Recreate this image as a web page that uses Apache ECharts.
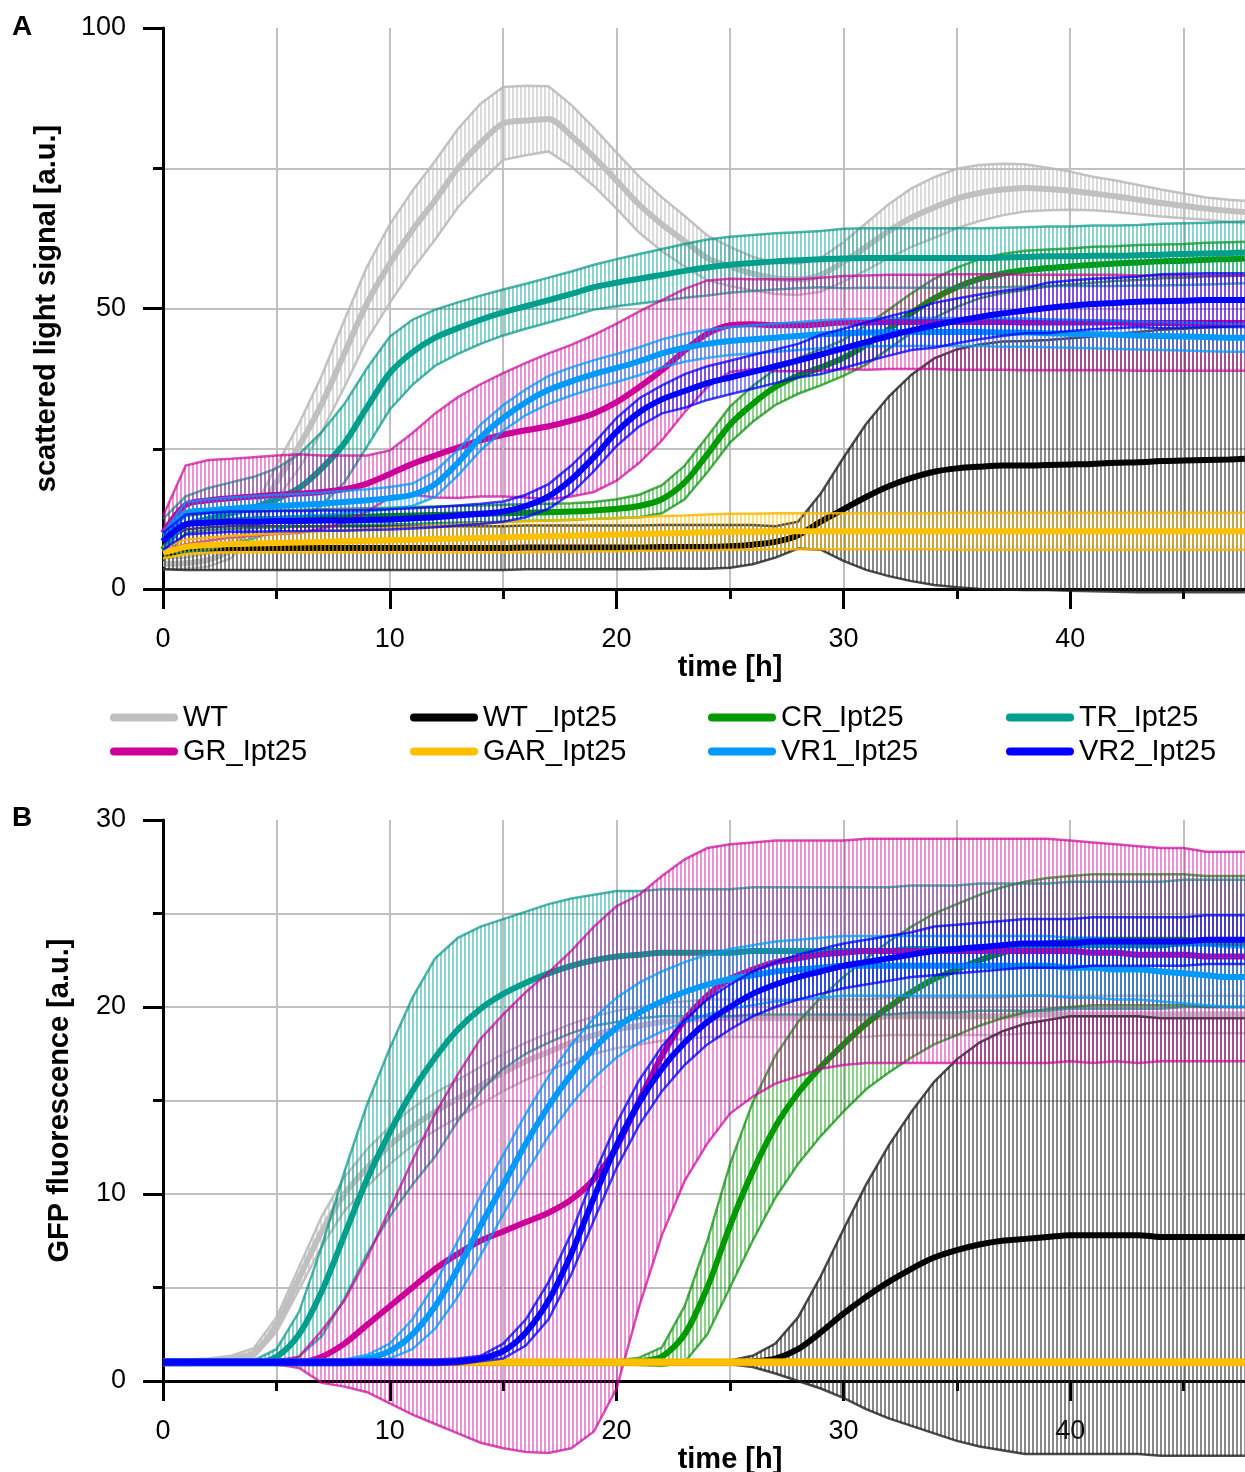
<!DOCTYPE html>
<html>
<head>
<meta charset="utf-8">
<script src="https://cdn.jsdelivr.net/npm/echarts@6/dist/echarts.min.js"></script>
<style>
html, body { margin: 0; padding: 0; background: #fff; }
#chart { width: 1245px; height: 1472px; }
</style>
</head>
<body>
<div id="chart"></div>
<script>
// Sampling times (h)
const hours = [0,1,2,3,4,5,6,7,8,9,
  10,11,12,13,14,15,16,17,18,19,
  20,21,22,23,24,25,26,27,28,29,
  30,31,32,33,34,35,36,37,38,39,
  40,41,42,43,44,45,46,47,47.7];

// Panel A: scattered light signal, mean and standard deviation per strain
const lightWT = [4.5,4.6,5.2,7,12,19,25.5,33,42,51,
  58,64,69.3,75,79.5,83,83.5,83.8,80.8,77,
  72.8,68.5,65,62,59,57.5,56.2,55.4,55.2,56,
  58.3,61,63.8,66.2,68,69.6,70.6,71.2,71.5,71.3,
  71,70.5,70,69.4,68.8,68.3,67.8,67.4,67.2];
const lightWTSd = [1,1,1.2,1.5,2.2,3,4,5,6,6.5,
  7,7,7,7,7,6.5,6.2,5.8,5.5,5.2,
  5,5,4.8,4.5,4,3.5,3,2.8,2.8,3,
  3.5,4.2,4.8,5.2,5.4,5.3,5,4.6,4.2,3.8,
  3.4,3,2.8,2.6,2.4,2.2,2,2,2];
const lightWTIpt = [6,7,7.2,7.3,7.3,7.3,7.3,7.3,7.3,7.3,
  7.3,7.3,7.3,7.3,7.3,7.3,7.4,7.4,7.4,7.4,
  7.4,7.4,7.5,7.5,7.5,7.6,7.9,8.4,9.6,12,
  14.2,16.4,18.3,19.8,20.9,21.5,21.8,22,22,22.1,
  22.2,22.3,22.5,22.6,22.8,22.9,23,23.1,23.2];
const lightWTIptSd = [2.5,3.6,3.8,3.9,3.9,3.9,3.9,3.9,3.9,3.9,
  3.9,3.9,3.9,3.9,3.9,3.9,3.9,3.9,3.9,3.9,
  3.9,3.9,3.9,3.9,3.9,3.8,3.5,2.8,2.4,5,
  9.2,13,16,18.4,20.2,21.2,21.8,22.1,22.2,22.3,
  22.5,22.7,23,23.2,23.4,23.5,23.6,23.7,23.8];
const lightCR = [7,11.5,12,12.2,12.4,12.5,12.6,12.7,12.8,12.9,
  13,13.1,13.2,13.3,13.4,13.5,13.6,13.7,13.8,14,
  14.3,14.8,16,19,24,29.3,33,36,38,39.5,
  41.2,43.5,46.3,49.2,51.8,53.8,55.3,56.2,56.8,57.2,
  57.5,57.8,58,58.2,58.4,58.5,58.7,58.8,58.9];
const lightCRSd = [2,1.5,1.5,1.5,1.5,1.5,1.5,1.5,1.5,1.5,
  1.5,1.5,1.5,1.5,1.5,1.5,1.5,1.5,1.5,1.5,
  1.7,2,2.5,3,3.2,3.2,3.2,3.2,3.2,3.2,
  3.2,3.5,3.5,3.5,3.5,3.5,3.5,3.5,3.5,3.3,
  3.2,3.2,3.1,3.1,3,3,3,3,3];
const lightTR = [9.5,11.5,12.5,13.5,14.5,16,18,21.5,26,32.4,
  38.5,42.2,44.8,46.5,48,49.3,50.4,51.5,52.6,53.8,
  54.6,55.3,56,56.7,57.3,57.8,58.1,58.4,58.6,58.8,
  58.9,59,59,59,59,59,59,59.1,59.2,59.3,
  59.3,59.4,59.4,59.5,59.6,59.7,59.8,59.9,60];
const lightTRSd = [3,5,5.5,5.5,5.5,5.5,6,6.5,7,7,
  6.5,5.8,5,4.6,4.3,4.1,4,4,4,4,
  4.2,4.4,4.6,4.8,5,5,5,5,5,5,
  5.3,5.3,5.3,5.3,5.3,5.3,5.3,5.3,5.3,5.3,
  5.3,5.4,5.4,5.4,5.5,5.5,5.5,5.5,5.5];
const lightGR = [10,15,15.8,16.2,16.5,16.8,17,17.3,17.8,18.8,
  20.5,22.3,23.8,25.2,26.5,27.5,28.3,29,30,31.3,
  33.3,36,39,42.5,45.5,47,47.2,47,47,47.2,
  47.5,47.5,47.6,47.6,47.6,47.6,47.6,47.6,47.5,47.5,
  47.5,47.5,47.5,47.4,47.4,47.4,47.4,47.4,47.4];
const lightGRSd = [3,7,7.2,7,7,7,7,6.5,6,5,
  4.2,5.5,7.5,9,10,11,12,13,13.5,14,
  14,13.5,12.5,11,9.5,8.3,8,8.2,8.2,8.3,
  8.3,8.4,8.4,8.4,8.4,8.5,8.5,8.5,8.5,8.5,
  8.5,8.5,8.5,8.5,8.5,8.5,8.5,8.5,8.5];
const lightGAR = [6.5,7.5,7.8,8,8.1,8.2,8.3,8.4,8.5,8.6,
  8.7,8.8,8.9,9,9.1,9.2,9.3,9.4,9.5,9.6,
  9.7,9.8,9.9,10,10.1,10.2,10.2,10.3,10.3,10.3,
  10.3,10.3,10.3,10.3,10.3,10.3,10.3,10.3,10.3,10.3,
  10.3,10.3,10.3,10.3,10.3,10.3,10.3,10.3,10.3];
const lightGARSd = [1,1.3,1.4,1.5,1.6,1.7,1.8,1.9,2,2.1,
  2.2,2.3,2.4,2.5,2.6,2.7,2.8,2.8,2.9,2.9,
  3,3,3.1,3.1,3.2,3.2,3.2,3.2,3.2,3.2,
  3.2,3.2,3.2,3.2,3.2,3.3,3.3,3.3,3.3,3.3,
  3.3,3.3,3.3,3.3,3.3,3.3,3.3,3.3,3.3];
const lightVR1 = [8.5,13.5,14,14.3,14.6,14.8,15,15.2,15.5,15.8,
  16.2,16.8,18.7,22.5,27,30.5,33.3,35.5,37,38.3,
  39.4,40.6,42,43,43.7,44.2,44.5,44.8,45.1,45.4,
  45.6,45.7,45.8,45.8,45.8,45.8,45.8,45.7,45.7,45.6,
  45.5,45.4,45.3,45.2,45.1,45,44.9,44.8,44.8];
const lightVR1Sd = [1.5,2,2,2,2,2,2,2,2,2,
  2,2,2.3,2.3,2.3,2.3,2.3,2.5,2.5,2.5,
  2.5,2.5,2.5,2.5,2.5,2.5,2.5,2.5,2.5,2.5,
  2.5,2.5,2.5,2.5,2.5,2.5,2.5,2.5,2.5,2.5,
  2.5,2.5,2.5,2.5,2.5,2.5,2.5,2.5,2.5];
const lightVR2 = [8.5,11.5,11.8,12,12,12.1,12.1,12.2,12.2,12.3,
  12.4,12.6,12.8,13.1,13.4,13.8,14.8,16.5,19.5,23.5,
  28,31.5,33.8,35.3,36.7,37.7,38.7,39.7,40.7,41.8,
  42.9,44,45.1,46.1,47,47.8,48.5,49.1,49.6,50.1,
  50.5,50.8,51,51.2,51.3,51.4,51.5,51.5,51.5];
const lightVR2Sd = [1.5,1.8,1.8,1.8,1.8,1.8,1.8,1.8,1.8,1.8,
  1.8,1.8,1.8,1.8,1.8,1.8,2,2.2,2.5,2.5,
  2.5,2.5,2.5,3,3,3,3,3,3,3.5,
  3.5,3.5,3.5,3.5,4,4,4,4,4,4.5,
  4.5,4.5,4.5,4.5,4.8,4.8,4.8,4.8,4.8];

// Panel B: GFP fluorescence, mean and standard deviation per strain
const gfpWT = [1,1,1.05,1.2,1.5,3,5.5,8,10,11.4,
  12.6,13.6,14.4,15.1,15.8,16.5,17.1,17.6,18.1,18.5,
  18.8,19,19.2,19.3,19.4,19.4,19.4,19.4,19.4,19.4,
  19.4,19.4,19.5,19.5,19.5,19.5,19.5,19.5,19.6,19.6,
  19.6,19.6,19.6,19.6,19.6,19.6,19.6,19.6,19.6];
const gfpWTSd = [0.15,0.15,0.15,0.15,0.25,0.4,0.6,0.8,0.9,1,
  1,1,1,1,1,1,1,1,1,1,
  1,1,1,1,1,1,1,1,1,1,
  1,1,1,1,1,1,1,1,1,1,
  1,1,1,1,1,1,1,1,1];
const gfpWTIpt = [1,1,1,1,1,1,1,1,1,1,
  1,1,1,1,1,1,1,1,1,1,
  1,1,1,1,1,1,1.05,1.2,1.7,2.6,
  3.6,4.5,5.3,6,6.6,7,7.3,7.5,7.6,7.7,
  7.8,7.8,7.8,7.8,7.7,7.7,7.7,7.7,7.7];
const gfpWTIptSd = [0.1,0.1,0.1,0.1,0.1,0.1,0.1,0.1,0.1,0.1,
  0.1,0.1,0.1,0.1,0.1,0.1,0.1,0.1,0.1,0.1,
  0.1,0.1,0.1,0.1,0.1,0.1,0.3,0.8,1.7,3,
  4.5,6,7.3,8.4,9.4,10.2,10.8,11.2,11.5,11.6,
  11.7,11.7,11.7,11.7,11.7,11.7,11.7,11.7,11.7];
const gfpCR = [1,1,1,1,1,1,1,1,1,1,
  1,1,1,1,1,1,1,1,1,1,
  1,1.05,1.3,2.5,5,8.3,11.2,13.6,15.4,16.8,
  18,19.1,20,20.8,21.5,22,22.5,22.9,23.2,23.4,
  23.5,23.6,23.6,23.6,23.6,23.6,23.5,23.5,23.5];
const gfpCRSd = [0.1,0.1,0.1,0.1,0.1,0.1,0.1,0.1,0.1,0.1,
  0.1,0.1,0.1,0.1,0.1,0.1,0.1,0.1,0.1,0.1,
  0.1,0.2,0.5,1.5,2.5,3.3,3.7,3.8,3.8,3.7,
  3.6,3.5,3.5,3.5,3.5,3.5,3.5,3.5,3.5,3.5,
  3.5,3.5,3.5,3.5,3.5,3.5,3.5,3.5,3.5];
const gfpTR = [1,1,1,1,1,1.3,2.5,4.8,7.8,10.8,
  13.3,15.5,17.3,18.8,19.9,20.7,21.3,21.8,22.2,22.5,
  22.7,22.8,22.9,22.9,22.9,22.9,23,23,23,23,
  23,23,23,23.1,23.1,23.1,23.2,23.2,23.2,23.2,
  23.3,23.3,23.3,23.3,23.3,23.4,23.4,23.4,23.4];
const gfpTRSd = [0.1,0.1,0.1,0.1,0.1,0.4,1.2,2.4,3.4,4,
  4.5,5,5.3,4.9,4.4,4,3.8,3.7,3.6,3.5,
  3.5,3.4,3.4,3.4,3.4,3.4,3.4,3.4,3.4,3.4,
  3.4,3.4,3.4,3.4,3.4,3.4,3.4,3.4,3.4,3.4,
  3.4,3.4,3.4,3.4,3.4,3.4,3.4,3.4,3.4];
const gfpGR = [1,1,1,1,1,1,1,1.3,2,3,
  4,5,6,6.8,7.5,8,8.5,9,9.7,10.8,
  12.5,15,17.4,19.3,20.6,21.5,22,22.4,22.6,22.8,
  22.9,23,23,23,23,23,23,23,23,23,
  23,22.9,22.9,22.8,22.8,22.8,22.7,22.7,22.7];
const gfpGRSd = [0.1,0.1,0.1,0.1,0.1,0.1,0.3,1.4,2.3,3.6,
  5.2,6.8,8.3,9.6,10.8,11.6,12.3,12.85,13.3,13.5,
  12.9,11,9.6,8.6,7.9,7.2,6.8,6.5,6.3,6.1,
  6,6,6,6,6,6,6,6,6,6,
  5.9,5.9,5.8,5.8,5.7,5.7,5.6,5.6,5.6];
const gfpGAR = [1,1,1,1,1,1,1,1,1,1,
  1,1,1,1,1,1,1,1,1,1,
  1,1,1,1,1,1,1,1,1,1,
  1,1,1,1,1,1,1,1,1,1,
  1,1,1,1,1,1,1,1,1];
const gfpGARSd = [0.15,0.15,0.15,0.15,0.15,0.15,0.15,0.15,0.15,0.15,
  0.15,0.15,0.15,0.15,0.15,0.15,0.15,0.15,0.15,0.15,
  0.15,0.15,0.15,0.15,0.15,0.15,0.15,0.15,0.15,0.15,
  0.15,0.15,0.15,0.15,0.15,0.15,0.15,0.15,0.15,0.15,
  0.15,0.15,0.15,0.15,0.15,0.15,0.15,0.15,0.15];
const gfpVR1 = [1,1,1,1,1,1,1,1,1,1.2,
  1.6,2.5,4,6,8.3,10.5,12.7,14.7,16.4,17.8,
  18.9,19.7,20.3,20.8,21.2,21.5,21.7,21.9,22,22.1,
  22.2,22.2,22.2,22.2,22.2,22.2,22.2,22.2,22.2,22.2,
  22.1,22.1,22,22,21.9,21.8,21.7,21.6,21.6];
const gfpVR1Sd = [0.15,0.15,0.15,0.15,0.15,0.15,0.15,0.15,0.15,0.2,
  0.4,0.8,1.2,1.5,1.6,1.6,1.6,1.6,1.6,1.6,
  1.6,1.6,1.6,1.6,1.6,1.6,1.6,1.6,1.6,1.6,
  1.6,1.6,1.6,1.6,1.6,1.6,1.6,1.6,1.6,1.6,
  1.6,1.6,1.6,1.6,1.6,1.6,1.6,1.6,1.6];
const gfpVR2 = [1,1,1,1,1,1,1,1,1,1,
  1,1,1,1.05,1.2,1.6,2.6,4.3,6.8,9.8,
  12.6,14.9,16.7,18.1,19.2,20,20.7,21.2,21.6,21.9,
  22.2,22.4,22.6,22.8,23,23.1,23.2,23.3,23.4,23.4,
  23.4,23.5,23.5,23.5,23.5,23.5,23.6,23.6,23.6];
const gfpVR2Sd = [0.15,0.15,0.15,0.15,0.15,0.15,0.15,0.15,0.15,0.15,
  0.15,0.15,0.15,0.15,0.15,0.4,0.7,1,1.1,1.2,
  1.2,1.2,1.2,1.2,1.2,1.2,1.2,1.2,1.2,1.2,
  1.2,1.2,1.2,1.2,1.3,1.3,1.3,1.3,1.3,1.3,
  1.3,1.3,1.3,1.3,1.3,1.3,1.3,1.3,1.3];

const xTicks = [0, 10, 20, 30, 40];

const FONT = '"Liberation Sans", Arial, Helvetica, sans-serif';

// Strains in drawing / legend order
const strains = [
  { name: 'WT',        color: '#c0c0c0', bar: 'rgba(190,190,190,0.55)', edge: 'rgba(185,185,185,0.85)', light: lightWT,    lightSd: lightWTSd,    gfp: gfpWT,    gfpSd: gfpWTSd },
  { name: 'WT _Ipt25', color: '#000000', bar: 'rgba(40,40,40,0.55)',    edge: 'rgba(30,30,30,0.8)',     light: lightWTIpt, lightSd: lightWTIptSd, gfp: gfpWTIpt, gfpSd: gfpWTIptSd },
  { name: 'CR_Ipt25',  color: '#009900', bar: 'rgba(0,153,0,0.45)',     edge: 'rgba(0,140,0,0.7)',      light: lightCR,    lightSd: lightCRSd,    gfp: gfpCR,    gfpSd: gfpCRSd },
  { name: 'TR_Ipt25',  color: '#009e8c', bar: 'rgba(0,158,140,0.45)',   edge: 'rgba(0,150,135,0.7)',    light: lightTR,    lightSd: lightTRSd,    gfp: gfpTR,    gfpSd: gfpTRSd },
  { name: 'GR_Ipt25',  color: '#cc0099', bar: 'rgba(204,0,153,0.42)',   edge: 'rgba(204,0,153,0.7)',    light: lightGR,    lightSd: lightGRSd,    gfp: gfpGR,    gfpSd: gfpGRSd },
  { name: 'GAR_Ipt25', color: '#ffc000', bar: 'rgba(255,192,0,0.5)',    edge: 'rgba(250,185,0,0.85)',   light: lightGAR,   lightSd: lightGARSd,   gfp: gfpGAR,   gfpSd: gfpGARSd },
  { name: 'VR1_Ipt25', color: '#0099ff', bar: 'rgba(0,153,255,0.45)',   edge: 'rgba(0,153,255,0.75)',   light: lightVR1,   lightSd: lightVR1Sd,   gfp: gfpVR1,   gfpSd: gfpVR1Sd },
  { name: 'VR2_Ipt25', color: '#0000ff', bar: 'rgba(0,0,255,0.45)',     edge: 'rgba(0,0,255,0.75)',     light: lightVR2,   lightSd: lightVR2Sd,   gfp: gfpVR2,   gfpSd: gfpVR2Sd }
];

strains.forEach(s => {
  ['light', 'lightSd', 'gfp', 'gfpSd'].forEach(k => {
    if (s[k].length !== hours.length) throw new Error(s.name + ' ' + k + ' length ' + s[k].length);
  });
});

// Dense vertical hatching that stands for the per-sample error bars
function stripes(color) {
  const c = document.createElement('canvas');
  c.width = 4; c.height = 4;
  const g = c.getContext('2d');
  g.fillStyle = color;
  g.fillRect(0, 0, 2, 4);
  return { image: c, repeat: 'repeat' };
}

function panelSeries(meanKey, sdKey, axisIndex) {
  const out = [];
  strains.forEach((s, k) => {
    const mean = s[meanKey], sd = s[sdKey];
    const hatch = stripes(s.bar);
    out.push({
      type: 'custom', name: s.name, xAxisIndex: axisIndex, yAxisIndex: axisIndex,
      clip: false, silent: true, z: 10 + k,
      data: hours.map((t, i) => [t, mean[i], sd[i]]),
      renderItem: (params, api) => {
        if (params.dataIndex !== 0) return null;
        const up = hours.map((t, i) => api.coord([t, mean[i] + sd[i]]));
        const lo = hours.map((t, i) => api.coord([t, mean[i] - sd[i]]));
        return {
          type: 'group',
          children: [
            { type: 'polygon', shape: { points: up.concat(lo.slice().reverse()) }, style: { fill: hatch } },
            { type: 'polyline', shape: { points: up }, style: { stroke: s.edge, lineWidth: 2.5, fill: 'none' } },
            { type: 'polyline', shape: { points: lo }, style: { stroke: s.edge, lineWidth: 2.5, fill: 'none' } }
          ]
        };
      }
    });
    out.push({
      type: 'line', name: s.name, xAxisIndex: axisIndex, yAxisIndex: axisIndex,
      z: 10 + k, silent: true, showSymbol: false, smooth: 0.3,
      data: hours.map((t, i) => [t, mean[i]]),
      lineStyle: { color: s.color, width: 6 },
      itemStyle: { color: s.color },
      emphasis: { disabled: true }
    });
  });
  return out;
}

const gridLine = { color: '#c0c0c0', width: 2 };
const blackLine = { color: '#000', width: 3 };

function xAxis(gridIndex) {
  return {
    type: 'value', gridIndex, min: 0, max: 50, interval: 10,
    name: 'time [h]', nameLocation: 'middle', nameGap: 57,
    nameTextStyle: { fontFamily: FONT, fontSize: 29, fontWeight: 'bold', color: '#000' },
    axisLine: { show: true, onZero: false, lineStyle: blackLine },
    axisTick: { show: true, length: 20, lineStyle: blackLine },
    minorTick: { show: true, splitNumber: 2, length: 10, lineStyle: blackLine },
    axisLabel: { margin: 37, fontFamily: FONT, fontSize: 27, color: '#000',
      formatter: v => (xTicks.indexOf(v) >= 0 ? String(v) : '') },
    splitLine: { show: true, lineStyle: gridLine },
    minorSplitLine: { show: true, lineStyle: gridLine }
  };
}

function yAxis(gridIndex, max, interval, name, gap) {
  return {
    type: 'value', gridIndex, min: 0, max, interval,
    name, nameLocation: 'middle', nameGap: gap,
    nameTextStyle: { fontFamily: FONT, fontSize: 29, fontWeight: 'bold', color: '#000' },
    axisLine: { show: true, onZero: false, lineStyle: blackLine },
    axisTick: { show: true, length: 20, lineStyle: blackLine },
    minorTick: { show: true, splitNumber: 2, length: 10, lineStyle: blackLine },
    axisLabel: { margin: 37, fontFamily: FONT, fontSize: 27, color: '#000' },
    splitLine: { show: true, showMaxLine: false, lineStyle: gridLine },
    minorSplitLine: { show: true, lineStyle: gridLine }
  };
}

const legendLeft = [110, 410, 708, 1006];
const legendCols = [[0, 4], [1, 5], [2, 6], [3, 7]];

const option = {
  animation: false,
  backgroundColor: '#fff',
  textStyle: { fontFamily: FONT },
  grid: [
    { left: 163, top: 28, width: 1134, height: 561, containLabel: false, outerBoundsMode: 'none' },
    { left: 163, top: 820, width: 1134, height: 561, containLabel: false, outerBoundsMode: 'none' }
  ],
  xAxis: [xAxis(0), xAxis(1)],
  yAxis: [
    yAxis(0, 100, 50, 'scattered light signal [a.u.]', 102),
    yAxis(1, 30, 10, 'GFP fluorescence [a.u.]', 89)
  ],
  legend: legendCols.map((col, k) => ({
    orient: 'vertical', left: legendLeft[k], top: 703, padding: 0,
    itemWidth: 68, itemHeight: 8, itemGap: 5, selectedMode: false,
    icon: 'path://M4 0H64A4 4 0 0 1 64 8H4A4 4 0 0 1 4 0Z',
    textStyle: { fontFamily: FONT, fontSize: 29, color: '#000' },
    data: col.map(i => ({ name: strains[i].name, itemStyle: { color: strains[i].color } }))
  })),
  graphic: [
    { type: 'text', left: 12, top: 13, style: { text: 'A', font: 'bold 28px ' + FONT, fill: '#000' } },
    { type: 'text', left: 12, top: 804, style: { text: 'B', font: 'bold 28px ' + FONT, fill: '#000' } }
  ],
  series: panelSeries('light', 'lightSd', 0).concat(panelSeries('gfp', 'gfpSd', 1))
};

const chart = echarts.init(document.getElementById('chart'), null, { renderer: 'canvas' });
chart.setOption(option);
</script>
</body>
</html>
